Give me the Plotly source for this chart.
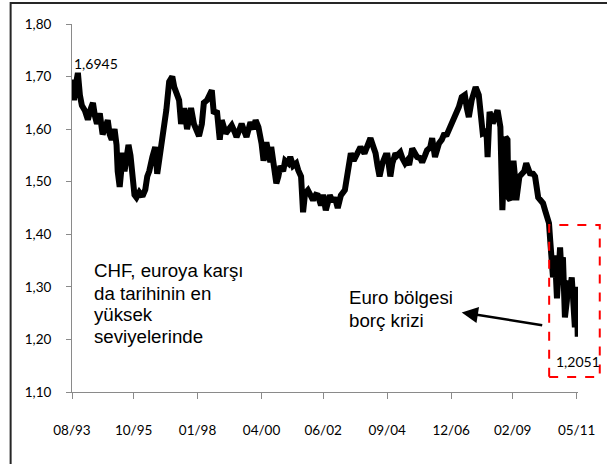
import plotly.graph_objects as go

# Decimal-year positions and EUR/CHF values
years = [1993.58, 1993.65, 1993.72, 1993.79, 1993.86, 1993.93, 1994.04, 1994.14, 1994.25, 1994.32,
         1994.39, 1994.46, 1994.56, 1994.66, 1994.77, 1994.84, 1994.91, 1994.98, 1995.08, 1995.15,
         1995.19, 1995.26, 1995.33, 1995.36, 1995.43, 1995.50, 1995.57, 1995.64, 1995.71, 1995.78,
         1995.85, 1995.95, 1996.06, 1996.16, 1996.23, 1996.30, 1996.41, 1996.51, 1996.58, 1996.65,
         1996.72, 1996.79, 1996.90, 1997.00, 1997.11, 1997.18, 1997.28, 1997.35, 1997.42, 1997.53,
         1997.63, 1997.70, 1997.77, 1997.87, 1997.94, 1998.05, 1998.15, 1998.22, 1998.33, 1998.43,
         1998.50, 1998.57, 1998.68, 1998.78, 1998.85, 1998.99, 1999.09, 1999.20, 1999.30, 1999.37,
         1999.48, 1999.55, 1999.65, 1999.72, 1999.86, 1999.97, 2000.04, 2000.14, 2000.25, 2000.32,
         2000.42, 2000.49, 2000.56, 2000.59, 2000.70, 2000.77, 2000.84, 2000.91, 2001.01, 2001.08,
         2001.19, 2001.26, 2001.36, 2001.47, 2001.54, 2001.64, 2001.71, 2001.78, 2001.88, 2001.99,
         2002.06, 2002.16, 2002.23, 2002.34, 2002.41, 2002.51, 2002.58, 2002.65, 2002.76, 2002.83,
         2002.93, 2003.04, 2003.18, 2003.28, 2003.39, 2003.49, 2003.56, 2003.66, 2003.73, 2003.87,
         2003.98, 2004.08, 2004.19, 2004.26, 2004.33, 2004.40, 2004.50, 2004.61, 2004.68, 2004.78,
         2004.85, 2004.96, 2005.02, 2005.13, 2005.20, 2005.30, 2005.37, 2005.44, 2005.55, 2005.65,
         2005.72, 2005.83, 2005.90, 2006.00, 2006.07, 2006.18, 2006.25, 2006.35, 2006.42, 2006.49,
         2006.59, 2006.66, 2006.77, 2006.84, 2006.94, 2007.05, 2007.12, 2007.19, 2007.29, 2007.40,
         2007.47, 2007.54, 2007.64, 2007.71, 2007.78, 2007.89, 2007.92, 2008.03, 2008.10, 2008.17,
         2008.20, 2008.27, 2008.34, 2008.38, 2008.48, 2008.55, 2008.65, 2008.72, 2008.76, 2008.83,
         2008.90, 2008.93, 2009.00, 2009.11, 2009.18, 2009.21, 2009.32, 2009.42, 2009.49, 2009.56,
         2009.63, 2009.69, 2009.80, 2009.87, 2009.98, 2010.08, 2010.15, 2010.22, 2010.29, 2010.36,
         2010.40, 2010.47, 2010.50, 2010.57, 2010.64, 2010.75, 2010.78, 2010.85, 2010.92, 2010.99,
         2011.02, 2011.09, 2011.16, 2011.27, 2011.34, 2011.37]

eurchf = [1.6945, 1.655, 1.685, 1.707, 1.665, 1.645, 1.635, 1.618, 1.640, 1.650,
          1.625, 1.610, 1.630, 1.590, 1.605, 1.617, 1.590, 1.580, 1.600, 1.570,
          1.520, 1.490, 1.530, 1.555, 1.520, 1.545, 1.570, 1.550, 1.490, 1.475,
          1.470, 1.480, 1.472, 1.485, 1.510, 1.520, 1.547, 1.566, 1.515, 1.540,
          1.566, 1.590, 1.636, 1.690, 1.700, 1.680, 1.665, 1.655, 1.610, 1.640,
          1.600, 1.625, 1.640, 1.610, 1.600, 1.587, 1.610, 1.650, 1.655, 1.665,
          1.674, 1.630, 1.635, 1.580, 1.617, 1.592, 1.600, 1.607, 1.595, 1.585,
          1.600, 1.610, 1.595, 1.585, 1.613, 1.600, 1.617, 1.604, 1.573, 1.540,
          1.575, 1.550, 1.537, 1.566, 1.520, 1.497, 1.510, 1.530, 1.520, 1.540,
          1.535, 1.547, 1.530, 1.535, 1.522, 1.510, 1.442, 1.478, 1.484, 1.470,
          1.465, 1.475, 1.474, 1.455, 1.475, 1.446, 1.465, 1.474, 1.462, 1.470,
          1.450, 1.474, 1.484, 1.522, 1.554, 1.540, 1.547, 1.555, 1.566, 1.554,
          1.570, 1.583, 1.565, 1.554, 1.530, 1.510, 1.535, 1.550, 1.550, 1.510,
          1.535, 1.554, 1.550, 1.556, 1.545, 1.535, 1.540, 1.532, 1.563, 1.550,
          1.547, 1.545, 1.537, 1.550, 1.560, 1.565, 1.583, 1.547, 1.565, 1.573,
          1.580, 1.589, 1.590, 1.598, 1.611, 1.627, 1.630, 1.642, 1.661, 1.665,
          1.640, 1.623, 1.655, 1.665, 1.680, 1.665, 1.642, 1.592, 1.594, 1.585,
          1.547, 1.633, 1.620, 1.611, 1.625, 1.636, 1.604, 1.446, 1.500, 1.585,
          1.580, 1.470, 1.465, 1.540, 1.500, 1.465, 1.510, 1.515, 1.520, 1.535,
          1.520, 1.516, 1.515, 1.510, 1.470, 1.465, 1.459, 1.446, 1.435, 1.421,
          1.390, 1.345, 1.318, 1.360, 1.278, 1.375, 1.345, 1.356, 1.242, 1.274,
          1.312, 1.290, 1.318, 1.223, 1.300, 1.2051]

tick_years = [1993.583, 1995.75, 1998.0, 2000.25, 2002.417, 2004.667, 2006.917, 2009.083, 2011.333]
tick_labels = ["08/93", "10/95", "01/98", "04/00", "06/02", "09/04", "12/06", "02/09", "05/11"]
y_ticks = [1.10, 1.20, 1.30, 1.40, 1.50, 1.60, 1.70, 1.80]
y_labels = ["1,10", "1,20", "1,30", "1,40", "1,50", "1,60", "1,70", "1,80"]

start_label = "1,6945"
end_label = "1,2051"
chf_lines = ["CHF, euroya karşı", "da tarihinin en", "yüksek", "seviyelerinde"]
euro_lines = ["Euro bölgesi", "borç krizi"]

fig = go.Figure()
fig.add_trace(go.Scatter(x=years, y=eurchf, mode="lines",
                         line=dict(color="black", width=6), showlegend=False,
                         hoverinfo="skip"))

axis_font = dict(family="Lato, Carlito, sans-serif", size=13.5, color="black")
fig.update_xaxes(range=[1993.583, 2011.38], showgrid=False, zeroline=False,
                 showline=True, linecolor="#8a8a8a", linewidth=1,
                 tickmode="array", tickvals=tick_years, ticktext=tick_labels,
                 ticks="outside", ticklen=6, tickcolor="#8a8a8a",
                 tickfont=axis_font, ticklabelstandoff=20)
fig.update_yaxes(range=[1.10, 1.80], showgrid=False, zeroline=False,
                 showline=True, linecolor="#8a8a8a", linewidth=1,
                 tickmode="array", tickvals=y_ticks, ticktext=y_labels,
                 ticks="outside", ticklen=5, tickcolor="#8a8a8a",
                 tickfont=axis_font, ticklabelstandoff=12)

ann = []
val_font = dict(family="Lato, Carlito, sans-serif", size=14, color="black")
ann.append(dict(x=1993.583, y=1.7257, text=start_label, showarrow=False,
                xanchor="left", yanchor="middle", font=val_font))
ann.append(dict(x=2010.535, y=1.158, text=end_label, showarrow=False,
                xanchor="left", yanchor="middle", font=val_font))

txt_font = dict(family="Liberation Sans, Arial, sans-serif", size=18.7, color="black")
chf_y = [1.3305, 1.2876, 1.2467, 1.2057]
for t, yy in zip(chf_lines, chf_y):
    ann.append(dict(x=1994.30, y=yy, text=t, showarrow=False,
                    xanchor="left", yanchor="middle", font=txt_font))
euro_y = [1.2790, 1.2352]
for t, yy in zip(euro_lines, euro_y):
    ann.append(dict(x=2003.245, y=yy, text=t, showarrow=False,
                    xanchor="left", yanchor="middle", font=txt_font))

# arrow pointing from the crisis box to the label
ann.append(dict(x=2007.29, y=1.2514, text="", showarrow=True,
                arrowhead=2, arrowsize=1.3, arrowwidth=2.5, arrowcolor="black",
                ax=82, ay=13, xanchor="center", yanchor="middle"))
fig.update_layout(annotations=ann)

shapes = [
    # red dashed crisis box
    dict(type="rect", xref="paper", yref="paper", x0=0.943, x1=1.043, y0=0.0408, y1=0.4538,
         line=dict(color="#ff0000", width=2, dash="dash"), fillcolor="rgba(0,0,0,0)"),
    # outer chart border
    dict(type="rect", xref="paper", yref="paper", x0=-0.1213, x1=1.06, y0=-0.22, y1=1.057,
         line=dict(color="#262626", width=2), fillcolor="rgba(0,0,0,0)"),
]
fig.update_layout(shapes=shapes)

fig.update_layout(width=607, height=464, margin=dict(l=72, r=24, t=24, b=72),
                  paper_bgcolor="white", plot_bgcolor="white")

fig.write_html("out.html", config={"displayModeBar": False},
               post_script="document.body.style.margin='0px';document.body.style.overflow='hidden';")
